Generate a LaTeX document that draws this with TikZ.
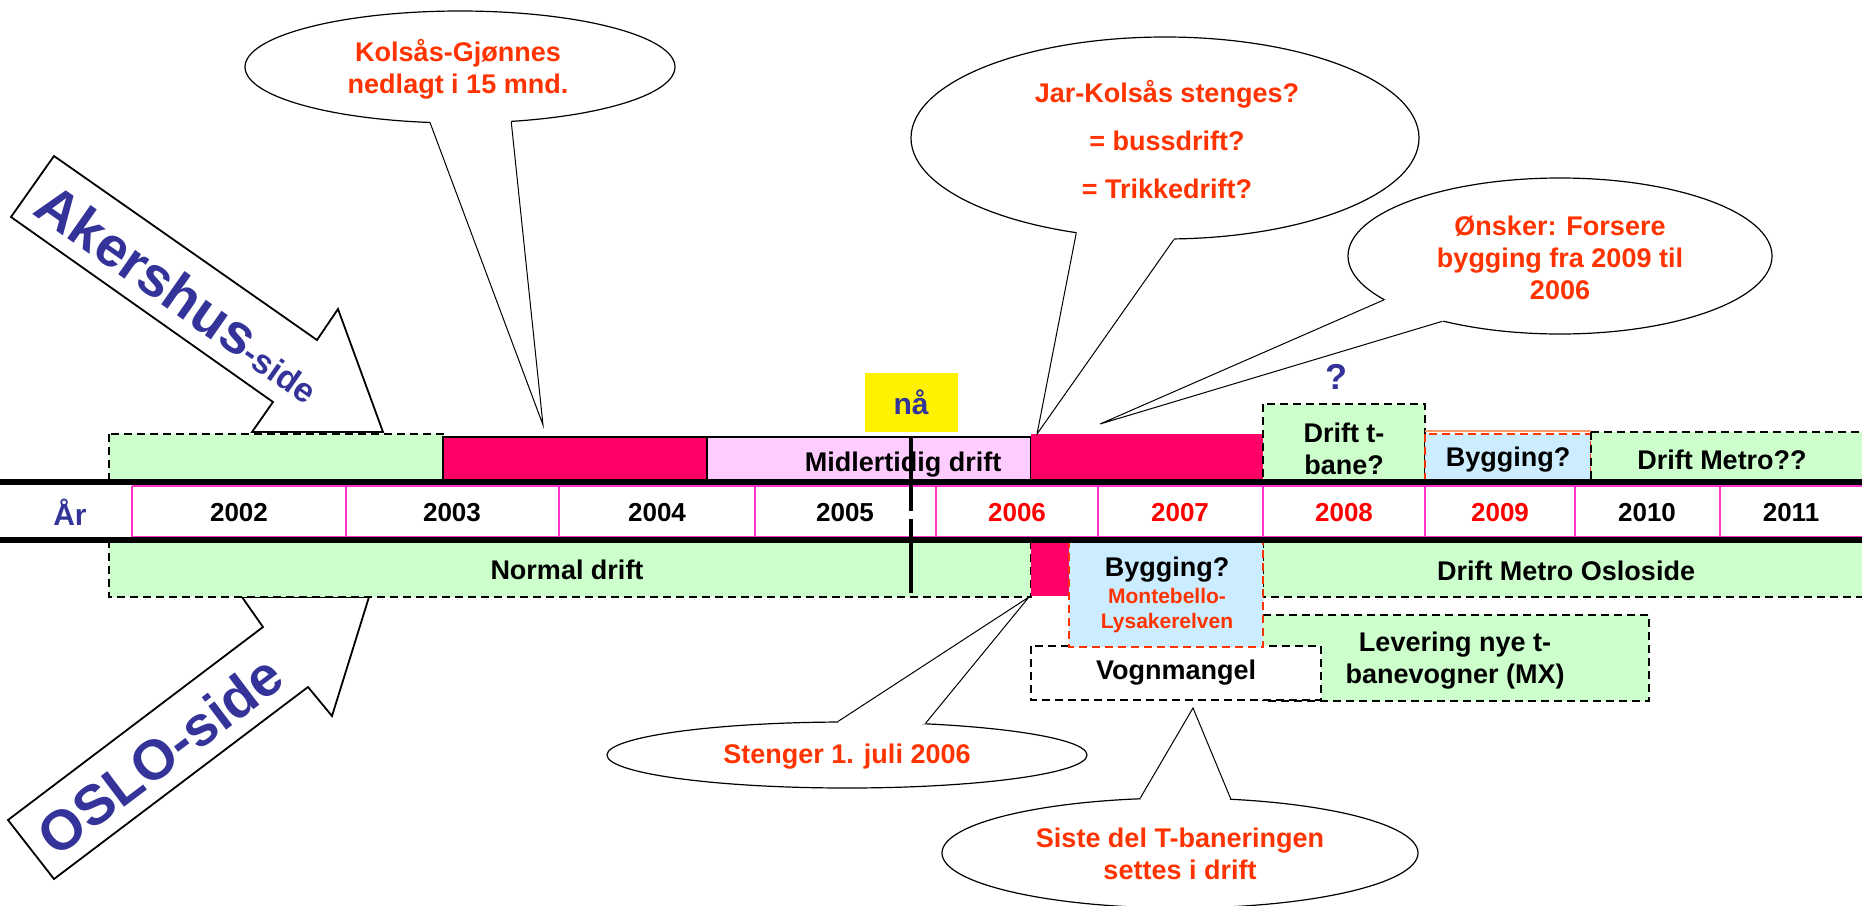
\documentclass[tikz,border=0pt]{standalone}
\usepackage{fontspec}
\setmainfont{Liberation Sans}
\usetikzlibrary{shapes.geometric,calc}
\definecolor{grn}{HTML}{CCFFCC}
\definecolor{hotred}{HTML}{FF0066}
\definecolor{lpink}{HTML}{FFCCFF}
\definecolor{lblue}{HTML}{CCECFF}
\definecolor{oblue}{HTML}{333399}
\definecolor{callred}{HTML}{FF3300}
\definecolor{yrline}{HTML}{FF33CC}
\definecolor{salmon}{HTML}{FF9966}

\begin{document}
\begin{tikzpicture}[x=0.5pt,y=-0.5pt,
    lbl/.style={font=\bfseries\fontsize{13.5}{16}\selectfont,align=center,inner sep=0pt},
    yearlbl/.style={font=\bfseries\fontsize{13}{16}\selectfont,inner sep=0pt},
    callout/.style={lbl,text=callred},
    bubble/.style={ellipse,draw=black,fill=white,line width=0.6pt,inner sep=0pt},
    tail/.style={draw=black,line width=0.5pt,line join=miter},
    dashbox/.style={draw=black,line width=1pt,dash pattern=on 4pt off 2.5pt},
    redbox/.style={draw=callred,line width=1pt,dash pattern=on 4pt off 2.5pt,fill=lblue},
    bigarrow/.style={draw=black,fill=white,line width=0.9pt,line join=miter},
    sidelbl/.style={text=oblue,font=\bfseries\fontsize{28}{30}\selectfont,inner sep=0pt}]
\useasboundingbox (0,0) rectangle (1862,905);

\draw[bigarrow] (54,156) -- (317,340) -- (338,309) -- (383,432) -- (252,432) -- (273,402) -- (11,217) -- cycle;
\node[sidelbl,rotate=-35] (aks) at (180,293) {Akershus{\fontsize{17}{20}\selectfont-side}};
\draw[bigarrow] (242,597) -- (263,627) -- (8,820) -- (54,879) -- (308,687) -- (332,716) -- (369,597) -- cycle;
\node[sidelbl,rotate=37] (oslo) at (160,755) {OSLO-side};

\draw[dashbox,fill=grn] (109,434) rectangle (443,482);
\draw[fill=hotred,draw=black,line width=0.8pt] (443,437) rectangle (707,482);
\draw[fill=lpink,draw=black,line width=0.8pt] (707,437) rectangle (1031,482);
\fill[hotred] (1031,434) rectangle (1263,482);
\draw[dashbox,fill=grn] (1263,404) rectangle (1425,482);
\draw[salmon,line width=1.2pt] (1425,431) -- (1591,431);
\draw[redbox] (1425,434) rectangle (1591,482);
\draw[dashbox,fill=grn] (1591,432) rectangle (1870,482);

\draw[dashbox,fill=grn] (109,540) rectangle (1031,597);
\fill[hotred] (1031,540) rectangle (1069,596);
\draw[dashbox,fill=grn] (1263,540) rectangle (1870,597);
\draw[dashbox,fill=grn] (1263,615) rectangle (1649,701);
\draw[dashbox,fill=white] (1031,646) rectangle (1321,700);
\draw[redbox] (1069,540) rectangle (1263,647);

\draw[yrline,line width=0.8pt] (132,486) -- (1862,486) (132,537) -- (1862,537)
  (132,486) -- (132,537) (346,486) -- (346,537) (559,486) -- (559,537)
  (755,486) -- (755,537) (936,486) -- (936,537) (1098,486) -- (1098,537)
  (1263,486) -- (1263,537) (1425,486) -- (1425,537) (1575,486) -- (1575,537)
  (1720,486) -- (1720,537);
\draw[line width=2.6pt] (0,482) -- (1862,482);
\draw[line width=2.6pt] (0,540) -- (1862,540);

\node[yearlbl,text=oblue,font=\bfseries\fontsize{15}{18}\selectfont] (aar) at (70,512) {År};
\node[yearlbl] (y2002) at (239,513) {2002};
\node[yearlbl] (y2003) at (452,513) {2003};
\node[yearlbl] (y2004) at (657,513) {2004};
\node[yearlbl] (y2005) at (845,513) {2005};
\node[yearlbl,text=red] (y2006) at (1017,513) {2006};
\node[yearlbl,text=red] (y2007) at (1180,513) {2007};
\node[yearlbl,text=red] (y2008) at (1344,513) {2008};
\node[yearlbl,text=red] (y2009) at (1500,513) {2009};
\node[yearlbl] (y2010) at (1647,513) {2010};
\node[yearlbl] (y2011) at (1791,513) {2011};

\node[lbl] (midl) at (903,465) {Midlertidig drift};
\node[lbl] (dtb) at (1344,449) {Drift t-\\bane?};
\node[lbl] (byg1) at (1508,460) {Bygging?};
\node[lbl] (dmet) at (1722,460) {Drift Metro??};
\node[lbl] (norm) at (567,570) {Normal drift};
\node[lbl] (byg2) at (1167,570) {Bygging?};
\node[lbl,text=callred,font=\bfseries\fontsize{10.5}{12.5}\selectfont] (mont) at (1167,611) {Montebello-\\Lysakerelven};
\node[lbl] (dmos) at (1566,571) {Drift Metro Osloside};
\node[lbl] (lev) at (1455,661) {Levering nye t-\\banevogner (MX)};
\node[lbl] (vogn) at (1176,673) {Vognmangel};

\draw[line width=1.7pt,dash pattern=on 37pt off 4pt] (911,437) -- (911,600);

\fill[yellow] (865,373) rectangle (958,432);
\node[lbl,text=oblue,font=\bfseries\fontsize{15}{18}\selectfont] (naa) at (911,402) {nå};
\node[lbl,text=oblue,font=\bfseries\fontsize{18}{20}\selectfont] (qm) at (1336,377) {?};

\node[bubble,minimum width=215pt,minimum height=56pt] (kol) at (460,67) {};
\node[callout] (koltxt) at (458,69) {Kolsås-Gjønnes\\nedlagt i 15 mnd.};
\coordinate (kt) at (543,425);
\fill[white] ($(kol.-118)!3pt!(kol.center)$) -- (kol.-118) -- (kt) -- (kol.-47) -- ($(kol.-47)!3pt!(kol.center)$) -- cycle;
\draw[tail] (kol.-118) -- (kt) -- (kol.-47);

\node[bubble,minimum width=254pt,minimum height=101pt] (jar) at (1165,138) {};
\node[callout,font=\bfseries\fontsize{13.5}{24}\selectfont] (jartxt) at (1167,140) {Jar-Kolsås stenges?\\= bussdrift?\\= Trikkedrift?};
\coordinate (jt) at (1037,434);
\fill[white] ($(jar.-133)!3pt!(jar.center)$) -- (jar.-133) -- (jt) -- (jar.-85) -- ($(jar.-85)!3pt!(jar.center)$) -- cycle;
\draw[tail] (jar.-133) -- (jt) -- (jar.-85);

\node[bubble,minimum width=212pt,minimum height=78pt] (ons) at (1560,256) {};
\node[callout] (onstxt) at (1560,258) {Ønsker: Forsere\\bygging fra 2009 til\\2006};
\coordinate (ot) at (1100,424);
\fill[white] ($(ons.-166)!3pt!(ons.center)$) -- (ons.-166) -- (ot) -- (ons.-151) -- ($(ons.-151)!3pt!(ons.center)$) -- cycle;
\draw[tail] (ons.-166) -- (ot) -- (ons.-151);

\node[bubble,minimum width=240pt,minimum height=33pt] (sten) at (847,755) {};
\node[callout] (stentxt) at (847,757) {Stenger 1. juli 2006};
\coordinate (st) at (1029,597);
\fill[white] ($(sten.105)!3pt!(sten.center)$) -- (sten.105) -- (st) -- (sten.22) -- ($(sten.22)!3pt!(sten.center)$) -- cycle;
\draw[tail] (sten.105) -- (st) -- (sten.22);

\node[bubble,minimum width=238pt,minimum height=55pt] (sis) at (1180,853) {};
\node[callout] (sistxt) at (1180,854) {Siste del T-baneringen\\settes i drift};
\coordinate (sit) at (1193,708);
\fill[white] ($(sis.126)!3pt!(sis.center)$) -- (sis.126) -- (sit) -- (sis.47) -- ($(sis.47)!3pt!(sis.center)$) -- cycle;
\draw[tail] (sis.126) -- (sit) -- (sis.47);
\end{tikzpicture}
\end{document}
